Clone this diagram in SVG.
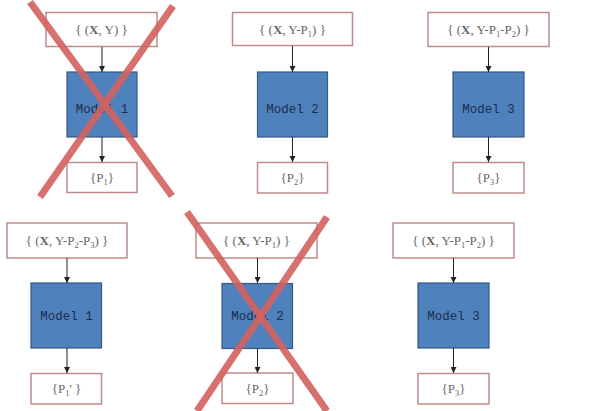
<svg xmlns="http://www.w3.org/2000/svg" width="600" height="411" viewBox="0 0 600 411">
<defs>
<marker id="ah" viewBox="0 0 10 10" refX="10" refY="5" markerWidth="6" markerHeight="6" orient="auto" markerUnits="userSpaceOnUse">
<path d="M0,0 L10,5 L0,10 z" fill="#222"/>
</marker>
<style>
.io{fill:#fff;stroke:#c08a8a;stroke-width:1.5}
.model{fill:#4f81bd;stroke:#36597f;stroke-width:1.2}
.t{font-family:"Liberation Serif",serif;font-size:13px;fill:#666;text-anchor:middle}
.mt{font-family:"Liberation Mono",monospace;font-size:12.5px;fill:#1c2d4a;text-anchor:middle}
.xb{font-weight:bold}
.c{stroke:#222;stroke-width:1;fill:none;marker-end:url(#ah)}
.cross{stroke:#d2625f;stroke-width:7;stroke-linecap:butt;fill:none;opacity:0.9}
</style>
</defs>
<rect width="600" height="411" fill="#fff"/>

<g id="in1a"><rect class="io" x="46" y="12.5" width="111" height="34"/><text class="t" x="101.5" y="34">{ (<tspan class="xb">X</tspan>, Y) }</text></g>
<g id="model1a"><rect class="model" x="67" y="72" width="70" height="65"/><text class="mt" x="102" y="113">Model 1</text></g>
<g id="out1a"><rect class="io" x="67" y="162.5" width="70" height="30"/><text class="t" x="102" y="182">{P<tspan font-size="8.5" dy="3">1</tspan><tspan dy="-3">}</tspan></text></g>

<g id="in2a"><rect class="io" x="232.5" y="12.5" width="120" height="33"/><text class="t" x="292.5" y="34">{ (<tspan class="xb">X</tspan>, Y-P<tspan font-size="8.5" dy="3">1</tspan><tspan dy="-3">) }</tspan></text></g>
<g id="model2a"><rect class="model" x="257.5" y="72" width="70" height="65"/><text class="mt" x="292.5" y="113">Model 2</text></g>
<g id="out2a"><rect class="io" x="257.5" y="162.5" width="70" height="30.5"/><text class="t" x="292.5" y="182">{P<tspan font-size="8.5" dy="3">2</tspan><tspan dy="-3">}</tspan></text></g>

<g id="in3a"><rect class="io" x="428" y="12.5" width="121" height="34"/><text class="t" x="488.5" y="34">{ (<tspan class="xb">X</tspan>, Y-P<tspan font-size="8.5" dy="3">1</tspan><tspan dy="-3">-P</tspan><tspan font-size="8.5" dy="3">2</tspan><tspan dy="-3">) }</tspan></text></g>
<g id="model3a"><rect class="model" x="453" y="72" width="71" height="65"/><text class="mt" x="488.5" y="113">Model 3</text></g>
<g id="out3a"><rect class="io" x="453" y="162.5" width="71" height="30.5"/><text class="t" x="488.5" y="182">{P<tspan font-size="8.5" dy="3">3</tspan><tspan dy="-3">}</tspan></text></g>

<g id="in1b"><rect class="io" x="7" y="223" width="120" height="35"/><text class="t" x="67" y="245">{ (<tspan class="xb">X</tspan>,  Y-P<tspan font-size="8.5" dy="3">2</tspan><tspan dy="-3">-P</tspan><tspan font-size="8.5" dy="3">3</tspan><tspan dy="-3">) }</tspan></text></g>
<g id="model1b"><rect class="model" x="31" y="283" width="70.5" height="65"/><text class="mt" x="66.5" y="320">Model 1</text></g>
<g id="out1b"><rect class="io" x="31" y="373.5" width="70.5" height="30.5"/><text class="t" x="66.5" y="393">{P<tspan font-size="8.5" dy="3">1</tspan><tspan dy="-3">'  }</tspan></text></g>

<g id="in2b"><rect class="io" x="196" y="223" width="121" height="35"/><text class="t" x="256.5" y="245">{ (<tspan class="xb">X</tspan>, Y-P<tspan font-size="8.5" dy="3">1</tspan><tspan dy="-3">) }</tspan></text></g>
<g id="model2b"><rect class="model" x="222" y="283.5" width="70.5" height="65"/><text class="mt" x="257.5" y="320">Model 2</text></g>
<g id="out2b"><rect class="io" x="222" y="373" width="71" height="30.5"/><text class="t" x="257.5" y="393">{P<tspan font-size="8.5" dy="3">2</tspan><tspan dy="-3">}</tspan></text></g>

<g id="in3b"><rect class="io" x="393" y="223" width="121" height="35"/><text class="t" x="453.5" y="245">{ (<tspan class="xb">X</tspan>, Y-P<tspan font-size="8.5" dy="3">1</tspan><tspan dy="-3">-P</tspan><tspan font-size="8.5" dy="3">2</tspan><tspan dy="-3">) }</tspan></text></g>
<g id="model3b"><rect class="model" x="418" y="283" width="71" height="65"/><text class="mt" x="453.5" y="320">Model 3</text></g>
<g id="out3b"><rect class="io" x="418" y="373.5" width="71" height="30.5"/><text class="t" x="453.5" y="393">{P<tspan font-size="8.5" dy="3">3</tspan><tspan dy="-3">}</tspan></text></g>

<g id="connectors">
<line class="c" x1="102" y1="47" x2="102" y2="72"/>
<line class="c" x1="102" y1="137" x2="102" y2="162"/>
<line class="c" x1="292.5" y1="46" x2="292.5" y2="72"/>
<line class="c" x1="292.5" y1="137" x2="292.5" y2="162"/>
<line class="c" x1="488.5" y1="47" x2="488.5" y2="72"/>
<line class="c" x1="488.5" y1="137" x2="488.5" y2="162"/>
<line class="c" x1="67" y1="258" x2="67" y2="283"/>
<line class="c" x1="67" y1="348" x2="67" y2="373"/>
<line class="c" x1="257.5" y1="258" x2="257.5" y2="283"/>
<line class="c" x1="257.5" y1="348.5" x2="257.5" y2="373"/>
<line class="c" x1="453.5" y1="258" x2="453.5" y2="283"/>
<line class="c" x1="453.5" y1="348" x2="453.5" y2="373"/>
</g>

<g id="cross1">
<line class="cross" x1="30" y1="2" x2="172" y2="196"/>
<line class="cross" x1="173" y1="6" x2="40" y2="197"/>
</g>
<g id="cross2">
<line class="cross" x1="187" y1="212" x2="327" y2="411"/>
<line class="cross" x1="327" y1="217" x2="197" y2="411"/>
</g>
</svg>
